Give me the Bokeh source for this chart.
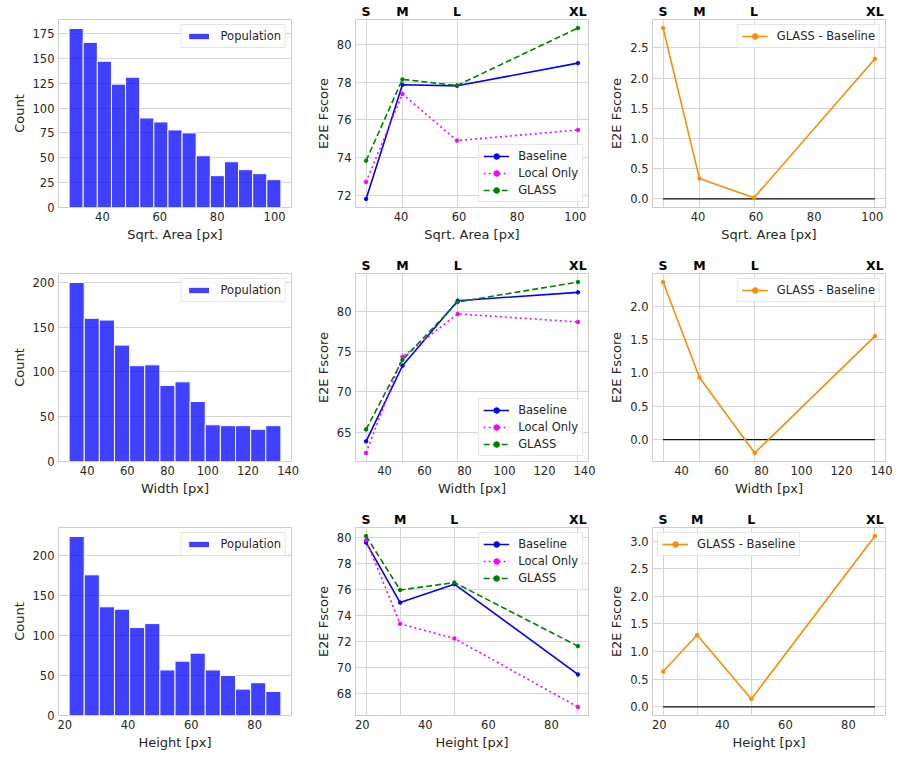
import numpy as np
from bokeh.plotting import figure
from bokeh.models import (Range1d, LinearAxis, FixedTicker, SingleIntervalTicker,
                          NumeralTickFormatter, Legend, LegendItem)
from bokeh.layouts import column, row
from bokeh.embed import file_html
from bokeh.resources import INLINE

# ---------------- data ----------------
size_labels = ["S", "M", "L", "XL"]

# histogram counts (equal-width bins between lo and hi)
area_counts = [180, 166, 147, 124, 131, 90, 86, 78, 75, 52, 32, 46, 38, 34, 28]
area_bin_lo, area_bin_hi = 28.4, 102.2
width_counts = [200, 160, 158, 130, 107, 108, 85, 89, 67, 41, 40, 40, 36, 40]
width_bin_lo, width_bin_hi = 31.0, 136.4
height_counts = [224, 176, 136, 133, 110, 115, 57, 68, 78, 57, 50, 33, 41, 30]
height_bin_lo, height_bin_hi = 21.35, 88.3

# size-category positions
area_x = [28.0, 40.5, 59.3, 100.9]
width_x = [30.8, 49.0, 76.6, 136.7]
height_x = [21.2, 32.0, 49.2, 88.4]

# E2E Fscore
area_baseline = [71.83, 77.86, 77.80, 79.00]
area_local = [72.73, 77.37, 74.91, 75.47]
area_glass = [73.85, 78.14, 77.82, 80.85]
area_diff = [2.83, 0.34, 0.02, 2.32]

width_baseline = [63.84, 73.24, 81.32, 82.36]
width_local = [62.40, 74.36, 79.68, 78.68]
width_glass = [65.32, 73.96, 81.16, 83.64]
width_diff = [2.36, 0.93, -0.20, 1.55]

height_baseline = [79.65, 75.03, 76.45, 69.50]
height_local = [79.83, 73.40, 72.27, 67.00]
height_glass = [80.15, 76.00, 76.57, 71.68]
height_diff = [0.64, 1.30, 0.145, 3.09]

# ---------------- style ----------------
FONT = "DejaVu Sans"
TXT = "#262626"
GRID = "#d5d5d5"
COL_B = [(58, 17), (47, 13), (51, 10)]
ROW_B = [(16, 47), (16, 47), (16, 39)]
FW, FH = 233, 191


def style_axis(ax):
    ax.axis_line_color = None
    ax.major_tick_line_color = None
    ax.minor_tick_line_color = None
    ax.major_tick_out = 0
    ax.major_tick_in = 0
    ax.major_label_text_font = FONT
    ax.major_label_text_font_size = "11.5px"
    ax.major_label_text_color = TXT
    ax.major_label_standoff = 4
    ax.axis_label_text_font = FONT
    ax.axis_label_text_font_size = "13px"
    ax.axis_label_text_font_style = "normal"
    ax.axis_label_text_color = TXT
    ax.axis_label_standoff = 3


def style_legend(lg, gh=14):
    lg.label_text_font = FONT
    lg.label_text_font_size = "11.5px"
    lg.label_text_color = TXT
    lg.glyph_width = 26
    lg.glyph_height = gh
    lg.label_standoff = 9
    lg.spacing = 3
    lg.padding = 4
    lg.margin = 5
    lg.border_line_color = "#cccccc"
    lg.background_fill_alpha = 0.85


def base_fig(ci, ri, xr, yr):
    lb, rb = COL_B[ci]
    tb, bb = ROW_B[ri]
    p = figure(width=lb + FW + rb, height=tb + FH + bb, x_range=xr, y_range=yr,
               output_backend="svg", toolbar_location=None,
               min_border_left=lb, min_border_right=rb,
               min_border_top=tb, min_border_bottom=bb)
    p.outline_line_color = "#cccccc"
    p.outline_line_width = 1
    p.background_fill_color = "white"
    p.border_fill_color = "white"
    for ax in p.axis:
        style_axis(ax)
    p.ygrid.grid_line_color = GRID
    p.xgrid.grid_line_color = GRID
    return p


def hist_fig(ci, ri, lo, hi, counts, xlabel, ytick):
    edges = np.linspace(lo, hi, len(counts) + 1)
    pad = 0.05 * (hi - lo)
    p = base_fig(ci, ri, Range1d(lo - pad, hi + pad), Range1d(0, max(counts) * 1.05))
    r = p.quad(left=edges[:-1], right=edges[1:], bottom=0, top=counts,
               fill_color="blue", fill_alpha=0.75, line_color="white", line_width=1)
    p.xgrid.grid_line_color = None
    p.xaxis.ticker = SingleIntervalTicker(interval=20, num_minor_ticks=0)
    p.yaxis.ticker = SingleIntervalTicker(interval=ytick, num_minor_ticks=0)
    p.xaxis.axis_label = xlabel
    p.yaxis.axis_label = "Count"
    lg = Legend(items=[LegendItem(label="Population", renderers=[r])], location="top_right")
    style_legend(lg, gh=8)
    p.add_layout(lg)
    return p


def line_fig(ci, ri, xs, series, xlabel, ytick, loc, fmt=None, zero=False):
    allv = [v for s in series for v in s[1]]
    if zero:
        allv = allv + [0.0]
    ylo, yhi = min(allv), max(allv)
    ypad = 0.05 * (yhi - ylo)
    xpad = 0.05 * (max(xs) - min(xs))
    p = base_fig(ci, ri, Range1d(min(xs) - xpad, max(xs) + xpad),
                 Range1d(ylo - ypad, yhi + ypad))
    p.xgrid.ticker = FixedTicker(ticks=list(xs))
    p.xaxis.ticker = SingleIntervalTicker(interval=20, num_minor_ticks=0)
    p.yaxis.ticker = SingleIntervalTicker(interval=ytick, num_minor_ticks=0)
    if fmt:
        p.yaxis.formatter = NumeralTickFormatter(format=fmt)
    p.xaxis.axis_label = xlabel
    p.yaxis.axis_label = "E2E Fscore"
    if zero:
        p.line([xs[0], xs[-1]], [0, 0], line_color="#111111", line_width=1.3)
    items = []
    for label, ys, color, dash in series:
        l = p.line(xs, ys, line_color=color, line_width=1.6, line_dash=dash)
        s = p.scatter(xs, ys, size=3.5, fill_color=color, line_color=color)
        items.append(LegendItem(label=label, renderers=[l, s]))
    top = LinearAxis(ticker=FixedTicker(ticks=list(xs)),
                     major_label_overrides={float(x): t for x, t in zip(xs, size_labels)})
    style_axis(top)
    top.major_label_text_font_style = "bold"
    top.major_label_text_color = "black"
    top.major_label_text_font_size = "12.5px"
    top.major_label_standoff = 1
    p.add_layout(top, "above")
    lg = Legend(items=items, location=loc)
    style_legend(lg)
    p.add_layout(lg)
    return p


def three(xs, b, lo, g):
    return [("Baseline", b, "blue", "solid"),
            ("Local Only", lo, "magenta", "2 3"),
            ("GLASS", g, "green", "6 3")]


diff_c = "darkorange"

r1 = row(
    hist_fig(0, 0, area_bin_lo, area_bin_hi, area_counts, "Sqrt. Area [px]", 25),
    line_fig(1, 0, area_x, three(area_x, area_baseline, area_local, area_glass),
             "Sqrt. Area [px]", 2, "bottom_right"),
    line_fig(2, 0, area_x, [("GLASS - Baseline", area_diff, diff_c, "solid")],
             "Sqrt. Area [px]", 0.5, "top_right", fmt="0.0", zero=True),
)
r2 = row(
    hist_fig(0, 1, width_bin_lo, width_bin_hi, width_counts, "Width [px]", 50),
    line_fig(1, 1, width_x, three(width_x, width_baseline, width_local, width_glass),
             "Width [px]", 5, "bottom_right"),
    line_fig(2, 1, width_x, [("GLASS - Baseline", width_diff, diff_c, "solid")],
             "Width [px]", 0.5, "top_right", fmt="0.0", zero=True),
)
r3 = row(
    hist_fig(0, 2, height_bin_lo, height_bin_hi, height_counts, "Height [px]", 50),
    line_fig(1, 2, height_x, three(height_x, height_baseline, height_local, height_glass),
             "Height [px]", 2, "top_right"),
    line_fig(2, 2, height_x, [("GLASS - Baseline", height_diff, diff_c, "solid")],
             "Height [px]", 0.5, "top_left", fmt="0.0", zero=True),
)

layout = column(r1, r2, r3)
open("out.html", "w").write(file_html(layout, INLINE))
